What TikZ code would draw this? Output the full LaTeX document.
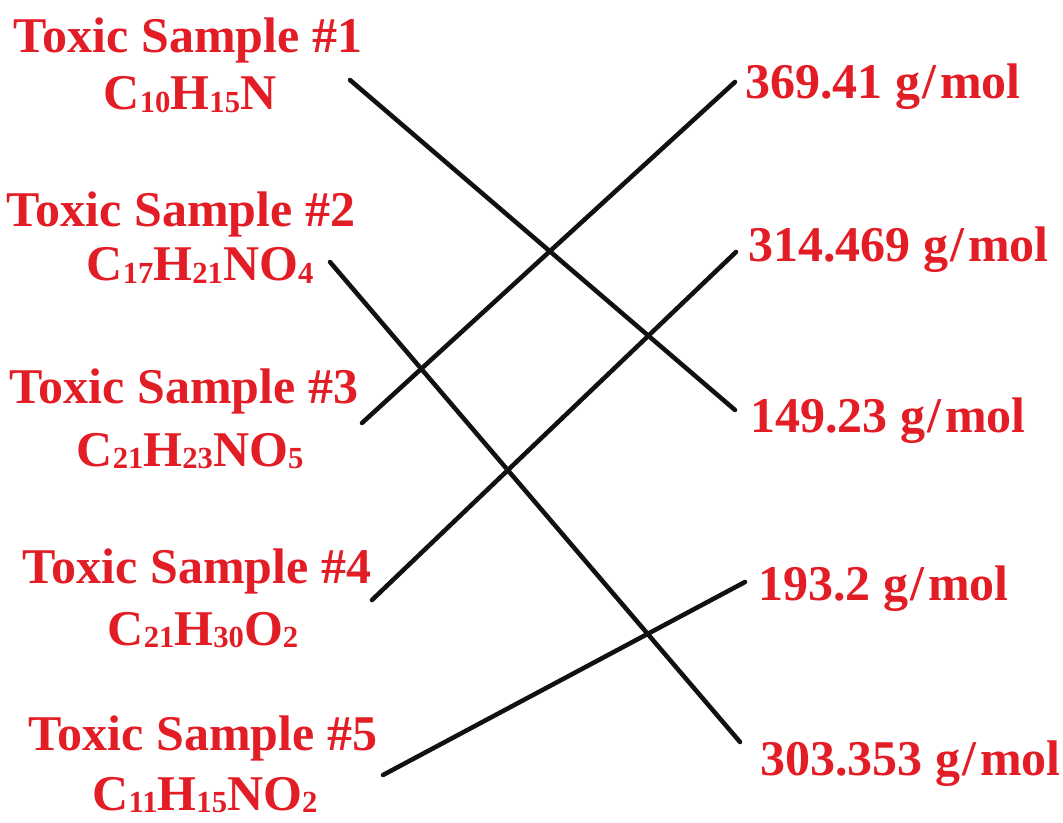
\documentclass[tikz,border=0pt]{standalone}
\usepackage{fontspec}
\setmainfont{Liberation Serif}
\usepackage{xcolor}
\definecolor{labelred}{HTML}{E21D25}
\definecolor{ink}{HTML}{111111}
% small figures that sit just under the baseline
\newcommand{\atoms}[1]{\raisebox{-2.2pt}{\fontsize{23}{23}\selectfont #1}}
\newcommand{\gmol}{g\kern1.5pt/\kern3pt mol}

\begin{document}
\begin{tikzpicture}[x=0.75pt, y=-0.75pt]
  % one unit = one pixel of the 1063 x 823 sheet, y running down
  \useasboundingbox (0,0) rectangle (1063,823);
  \tikzset{
    sample/.style={anchor=base, inner sep=0pt, text=labelred,
                   font=\fontsize{37.5}{40}\selectfont\bfseries},
    molar/.style={anchor=base west, inner sep=0pt, text=labelred,
                  font=\fontsize{37.5}{40}\selectfont\bfseries},
    link/.style={draw=ink, line width=3.4pt, line cap=round}}

  % ========== left column: the five samples and their formulas ===========
  \node[sample] (s1) at (188,53)  {Toxic Sample \#1};
  \node[sample] (f1) at (190,110) {C\atoms{10}H\atoms{15}N};
  \node[sample] (s2) at (181,227) {Toxic Sample \#2};
  \node[sample] (f2) at (200,281) {C\atoms{17}H\atoms{21}NO\atoms{4}};
  \node[sample] (s3) at (184,403) {Toxic Sample \#3};
  \node[sample] (f3) at (190,466) {C\atoms{21}H\atoms{23}NO\atoms{5}};
  \node[sample] (s4) at (197,583) {Toxic Sample \#4};
  \node[sample] (f4) at (203,645) {C\atoms{21}H\atoms{30}O\atoms{2}};
  \node[sample] (s5) at (203,750) {Toxic Sample \#5};
  \node[sample] (f5) at (205,810) {C\atoms{11}H\atoms{15}NO\atoms{2}};

  % ========== right column: the molar masses ==============================
  \node[molar] (m1) at (745,99)  {369.41 \gmol};
  \node[molar] (m2) at (748,262) {314.469 \gmol};
  \node[molar] (m3) at (750,432) {149.23 \gmol};
  \node[molar] (m4) at (758,600) {193.2 \gmol};
  \node[molar] (m5) at (760,775) {303.353 \gmol};

  % --- line ends, set just off each label
  \coordinate (a1) at (350,80);
  \coordinate (a2) at (330,262);
  \coordinate (a3) at (362,423);
  \coordinate (a4) at (372,600);
  \coordinate (a5) at (383,775);
  \coordinate (b1) at (735,82);
  \coordinate (b2) at (736,252);
  \coordinate (b3) at (735,410);
  \coordinate (b4) at (745,582);
  \coordinate (b5) at (740,742);

  % the matching lines
  \draw[link] (a1) -- (b3);
  \draw[link] (a2) -- (b5);
  \draw[link] (a3) -- (b1);
  \draw[link] (a4) -- (b2);
  \draw[link] (a5) -- (b4);
\end{tikzpicture}
\end{document}
